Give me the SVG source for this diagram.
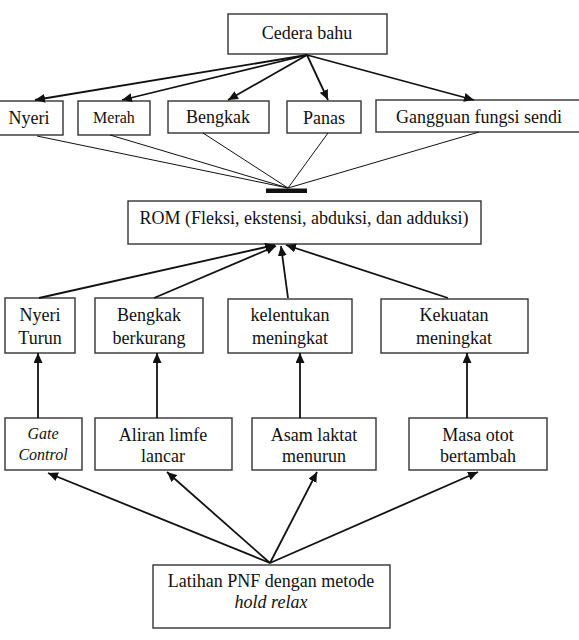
<svg xmlns="http://www.w3.org/2000/svg" width="579" height="640" viewBox="0 0 579 640">
<defs>
<style>
.box{fill:#fff;stroke:#333;stroke-width:1.4}
.t{font-family:"Liberation Serif","Times New Roman",serif;font-size:18px;fill:#111;text-anchor:middle}
.it{font-style:italic}
.arr{stroke:#111;stroke-width:1.8;fill:none;marker-end:url(#ah)}
.thin{stroke:#111;stroke-width:1;fill:none}
</style>
<marker id="ah" markerUnits="userSpaceOnUse" markerWidth="11" markerHeight="9" refX="10" refY="4.5" orient="auto">
<path d="M0,0 L10,4.5 L0,9 z" fill="#111"/>
</marker>
</defs>
<rect width="579" height="640" fill="#fff"/>

<g id="cedera"><rect class="box" x="228" y="14" width="159" height="40"/><text class="t" x="307" y="39">Cedera bahu</text></g>
<g id="nyeri"><rect class="box" x="-1" y="101" width="64" height="34"/><text class="t" x="29" y="124">Nyeri</text></g>
<g id="merah"><rect class="box" x="78" y="101" width="72" height="34"/><text class="t" x="114" y="123" style="font-size:16px">Merah</text></g>
<g id="bengkak"><rect class="box" x="168" y="101" width="101" height="32"/><text class="t" x="218" y="123">Bengkak</text></g>
<g id="panas"><rect class="box" x="287" y="101" width="74" height="32"/><text class="t" x="324" y="124">Panas</text></g>
<g id="gangguan"><rect class="box" x="376" y="100" width="206" height="32"/><text class="t" x="479" y="123">Gangguan fungsi sendi</text></g>
<g id="bar"><rect x="266" y="188.5" width="41" height="4.5" fill="#111"/></g>
<g id="rom"><rect class="box" x="128" y="201" width="353" height="43"/><text class="t" x="304" y="224">ROM (Fleksi, ekstensi, abduksi, dan adduksi)</text></g>

<g id="nyeri-turun"><rect class="box" x="5" y="298" width="70" height="55"/><text class="t" x="40" y="321">Nyeri</text><text class="t" x="40" y="344">Turun</text></g>
<g id="bengkak-berkurang"><rect class="box" x="95" y="298" width="108" height="55"/><text class="t" x="149" y="321">Bengkak</text><text class="t" x="149" y="344">berkurang</text></g>
<g id="kelentukan"><rect class="box" x="228" y="299" width="124" height="54"/><text class="t" x="290" y="321">kelentukan</text><text class="t" x="290" y="344">meningkat</text></g>
<g id="kekuatan"><rect class="box" x="381" y="299" width="147" height="54"/><text class="t" x="454" y="321">Kekuatan</text><text class="t" x="454" y="344">meningkat</text></g>

<g id="gate"><rect class="box" x="5" y="418" width="77" height="52"/><text class="t it" x="43" y="439" style="font-size:16px">Gate</text><text class="t it" x="43" y="460" style="font-size:16px">Control</text></g>
<g id="aliran"><rect class="box" x="95" y="418" width="137" height="52"/><text class="t" x="163" y="441">Aliran limfe</text><text class="t" x="163" y="462">lancar</text></g>
<g id="asam"><rect class="box" x="252" y="418" width="124" height="52"/><text class="t" x="314" y="441">Asam laktat</text><text class="t" x="314" y="462">menurun</text></g>
<g id="masa"><rect class="box" x="409" y="418" width="138" height="52"/><text class="t" x="478" y="441">Masa otot</text><text class="t" x="478" y="462">bertambah</text></g>

<g id="latihan"><rect class="box" x="153" y="565" width="237" height="63"/><text class="t" x="271" y="587">Latihan PNF dengan metode</text><text class="t it" x="271" y="608">hold relax</text></g>

<g id="connectors">
<line class="arr" x1="307" y1="55" x2="35" y2="100"/>
<line class="arr" x1="307" y1="55" x2="122" y2="100"/>
<line class="arr" x1="307" y1="55" x2="228" y2="100"/>
<line class="arr" x1="307" y1="55" x2="328" y2="100"/>
<line class="arr" x1="307" y1="55" x2="474" y2="100"/>

<line class="thin" x1="37" y1="136" x2="288" y2="188"/>
<line class="thin" x1="110" y1="135" x2="288" y2="188"/>
<line class="thin" x1="203" y1="133" x2="288" y2="188"/>
<line class="thin" x1="328" y1="133" x2="288" y2="188"/>
<line class="thin" x1="479" y1="132" x2="288" y2="188"/>

<line class="arr" x1="39" y1="298" x2="275" y2="245"/>
<line class="arr" x1="154" y1="298" x2="276" y2="246"/>
<line class="arr" x1="288" y1="298" x2="281" y2="246"/>
<line class="arr" x1="448" y1="298" x2="286" y2="245"/>

<line class="arr" x1="38" y1="418" x2="38" y2="353"/>
<line class="arr" x1="157" y1="418" x2="157" y2="353"/>
<line class="arr" x1="300" y1="418" x2="300" y2="353"/>
<line class="arr" x1="467" y1="418" x2="467" y2="353"/>

<line class="arr" x1="270" y1="563" x2="48" y2="473"/>
<line class="arr" x1="270" y1="563" x2="167" y2="472"/>
<line class="arr" x1="270" y1="563" x2="317" y2="472"/>
<line class="arr" x1="270" y1="563" x2="478" y2="472"/>
</g>
</svg>
